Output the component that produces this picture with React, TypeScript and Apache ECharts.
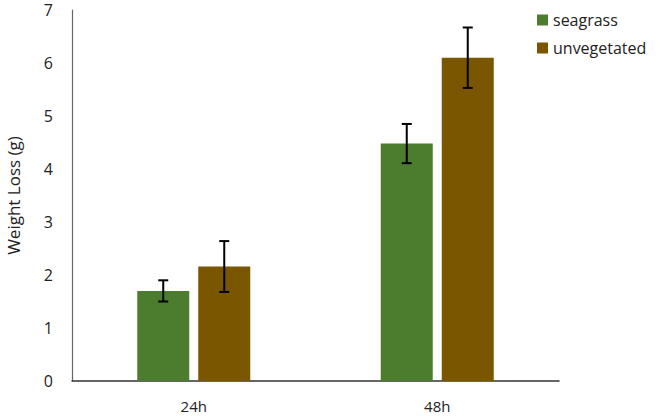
import React, { useEffect, useRef } from "react";
import * as echarts from "echarts";

const categories = ["24h", "48h"];
const seagrass = [1.7, 4.48];
const seagrassErr = [0.2, 0.37];
const unvegetated = [2.16, 6.1];
const unvegetatedErr = [0.48, 0.57];
const yTicks = [0, 1, 2, 3, 4, 5, 6, 7];

const GREEN = "#4C7D2E";
const BROWN = "#7A5600";
const BAR_W = 52;
const GAP = 9;

function errorSeries(name: string, vals: number[], errs: number[], offset: number) {
  return {
    type: "custom",
    name: name + "-err",
    z: 10,
    silent: true,
    data: vals.map((v, i) => [i, v - errs[i], v + errs[i]]),
    renderItem: (params: any, api: any) => {
      const i = api.value(0);
      const lo = api.coord([i, api.value(1)]);
      const hi = api.coord([i, api.value(2)]);
      const x = lo[0] + offset;
      const hw = 5;
      const style = { stroke: "#000", lineWidth: 2 };
      return {
        type: "group",
        children: [
          { type: "line", shape: { x1: x, y1: lo[1], x2: x, y2: hi[1] }, style },
          { type: "line", shape: { x1: x - hw, y1: lo[1], x2: x + hw, y2: lo[1] }, style },
          { type: "line", shape: { x1: x - hw, y1: hi[1], x2: x + hw, y2: hi[1] }, style },
        ],
      };
    },
  };
}

export default function App() {
  const ref = useRef<HTMLDivElement>(null);
  useEffect(() => {
    if (!ref.current) return;
    const chart = echarts.init(ref.current, null, { renderer: "svg" });
    const font = "'Open Sans', sans-serif";
    chart.setOption({
      animation: false,
      textStyle: { fontFamily: font },
      grid: { left: 72, right: 107, top: 10, bottom: 35, containLabel: false, outerBoundsMode: "none" },
      legend: {
        orient: "vertical",
        left: 532,
        top: 7,
        icon: "rect",
        itemWidth: 11,
        itemHeight: 11,
        itemGap: 12,
        textStyle: { fontSize: 16, color: "#222", fontFamily: font },
        data: ["seagrass", "unvegetated"],
      },
      xAxis: {
        type: "category",
        data: categories,
        axisLine: { lineStyle: { color: "#333", width: 1.5 } },
        axisTick: { show: false },
        axisLabel: { fontSize: 15, color: "#222", margin: 17 },
      },
      yAxis: {
        type: "value",
        min: yTicks[0],
        max: yTicks[yTicks.length - 1],
        interval: 1,
        name: "Weight Loss (g)",
        nameLocation: "middle",
        nameGap: 50,
        nameTextStyle: { fontSize: 17, color: "#222" },
        axisLine: { show: true, lineStyle: { color: "#666", width: 1.2 } },
        axisTick: { show: false },
        splitLine: { show: false },
        axisLabel: { fontSize: 16, color: "#222", margin: 19 },
      },
      series: [
        {
          type: "bar",
          name: "seagrass",
          data: seagrass,
          barWidth: BAR_W,
          barGap: (GAP / BAR_W) * 100 + "%",
          itemStyle: { color: GREEN },
        },
        {
          type: "bar",
          name: "unvegetated",
          data: unvegetated,
          barWidth: BAR_W,
          barGap: (GAP / BAR_W) * 100 + "%",
          itemStyle: { color: BROWN },
        },
        errorSeries("seagrass", seagrass, seagrassErr, -(BAR_W + GAP) / 2),
        errorSeries("unvegetated", unvegetated, unvegetatedErr, (BAR_W + GAP) / 2),
      ],
    });
    return () => chart.dispose();
  }, []);
  return <div ref={ref} style={{ width: 666, height: 416, position: "absolute", left: 0, top: 0 }} />;
}
